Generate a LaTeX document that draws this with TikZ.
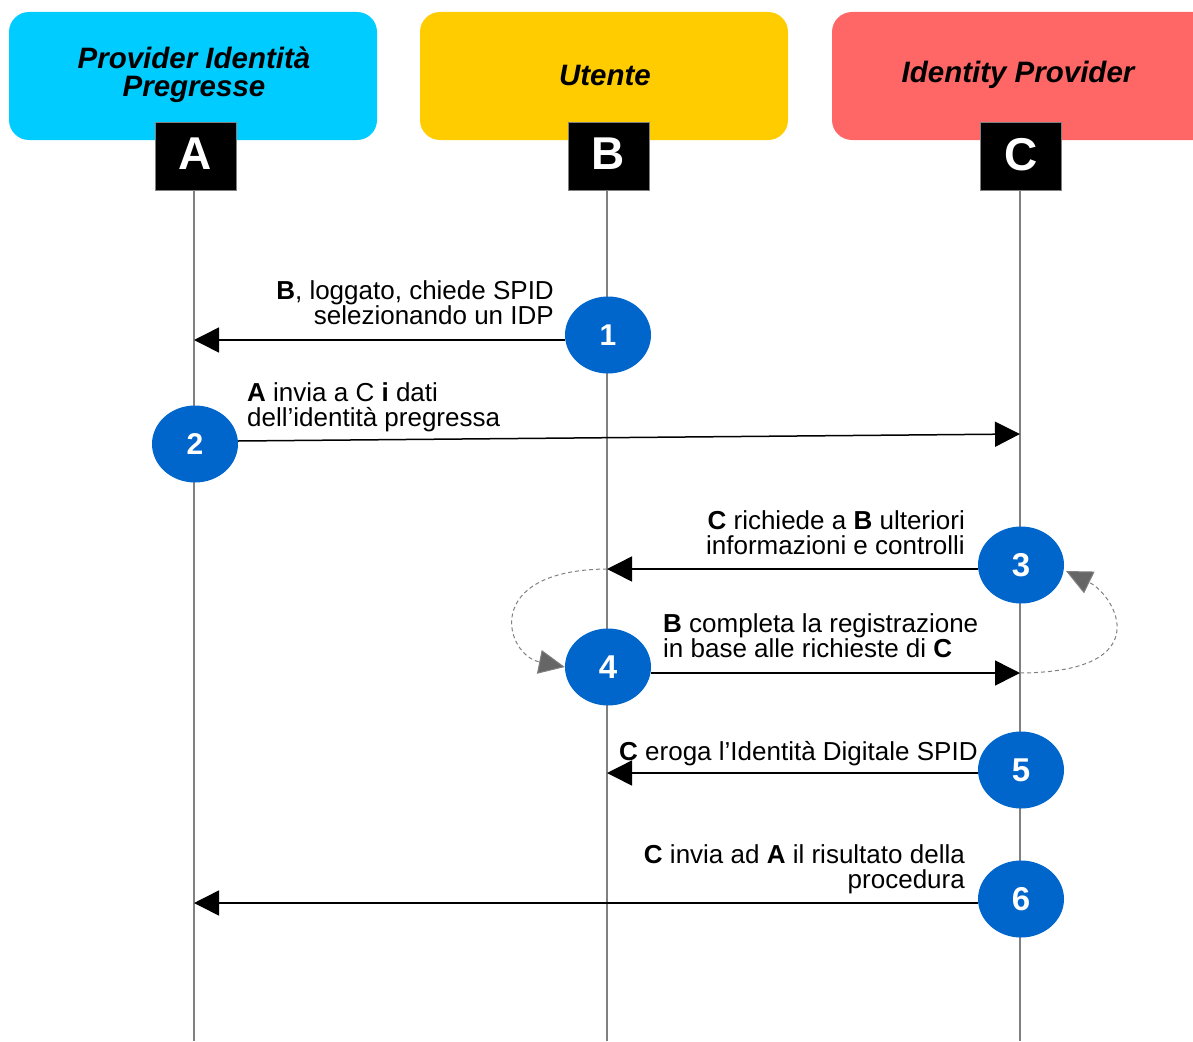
\documentclass[tikz,border=0pt]{standalone}
\usepackage{fontspec}
\setmainfont{Liberation Sans}
\usetikzlibrary{arrows.meta,shapes.geometric}
\definecolor{cA}{RGB}{0,204,255}
\definecolor{cB}{RGB}{255,204,0}
\definecolor{cC}{RGB}{255,102,102}
\definecolor{stepblue}{RGB}{0,102,204}
\definecolor{lifegray}{RGB}{128,128,128}
\definecolor{headgray}{RGB}{102,102,102}
\tikzset{
  header/.style={fill=#1, draw=none, rounded corners=20pt},
  htext/.style={font=\fontsize{29.5}{28}\selectfont\bfseries\itshape, align=center, inner sep=0pt},
  letterbox/.style={fill=black, draw=lifegray, line width=0.8pt, minimum width=81pt, minimum height=68pt, inner sep=0pt, text=white, font=\fontsize{46}{46}\selectfont\bfseries},
  lifeline/.style={draw=lifegray, line width=1.3pt},
  stepnum/.style={ellipse, fill=stepblue, draw=none, minimum width=86pt, minimum height=77pt, inner sep=0pt, text=white, font=\fontsize{#1}{#1}\selectfont\bfseries},
  stepnum/.default=33,
  msg/.style={draw=black, line width=1.5pt, -{Triangle[length=25pt,width=25pt]}},
  loopback/.style={draw=lifegray, line width=1pt, dash pattern=on 4pt off 3pt, -{Triangle[length=26pt,width=24pt,fill=headgray]}},
  lbl/.style={font=\fontsize{26}{24.5}\selectfont, inner sep=0pt},
}
\begin{document}
\begin{tikzpicture}[x=1pt,y=-1pt]
\useasboundingbox (0,0) rectangle (1193,1041);
\clip (0,0) rectangle (1193,1041);
% headers
\path[header=cA] (9,12) rectangle (377,140);
\path[header=cB] (420,12) rectangle (788,140);
\path[header=cC] (832,12) rectangle (1225,140);
\node[htext] (hA) at (194,75) {Provider Identità\\Pregresse};
\node[htext] (hB) at (605,75) {Utente};
\node[htext] (hC) at (1018,75) {Identity Provider};
% letter boxes
\node[letterbox] (A) at (195.5,156) {\raisebox{4pt}{A}};
\node[letterbox] (B) at (608.5,156) {\raisebox{4pt}{B}};
\node[letterbox] (C) at (1021,156) {\raisebox{4pt}{C}};
% lifelines
\coordinate (Aend) at (194,1041);
\coordinate (Bend) at (607,1041);
\coordinate (Cend) at (1020,1041);
\draw[lifeline] (194,190) -- (Aend);
\draw[lifeline] (607,190) -- (Bend);
\draw[lifeline] (1020,190) -- (Cend);
% steps
\node[stepnum=30] (s1) at (608,335) {1};
\node[stepnum=30] (s2) at (195,444) {2};
\node[stepnum] (s3) at (1021,565) {3};
\node[stepnum] (s4) at (608,667) {4};
\node[stepnum] (s5) at (1021,770) {5};
\node[stepnum] (s6) at (1021,899) {6};
% targets on lifelines
\coordinate (t1) at (194,340);
\coordinate (t2) at (1020,434);
\coordinate (t3) at (607,569);
\coordinate (t4) at (1020,673);
\coordinate (t5) at (607,773);
\coordinate (t6) at (194,903);
% messages
\draw[msg] (s1.west |- t1) -- (t1);
\draw[msg] (238,441) -- (t2);
\draw[msg] (s3.west |- t3) -- (t3);
\draw[msg] (s4.east |- t4) -- (t4);
\draw[msg] (s5.west |- t5) -- (t5);
\draw[msg] (s6.west |- t6) -- (t6);
% loopbacks
\draw[loopback] (t3) .. controls (480,570) and (505,655) .. (s4.west);
\draw[loopback] (t4) .. controls (1160,672) and (1115,595) .. (1066,571);
% labels
\node[lbl, anchor=base east, align=right] (l1) at (554,324) {\textbf{B}, loggato, chiede SPID\\selezionando un IDP};
\node[lbl, anchor=base west, align=left] (l2) at (247,426) {\textbf{A} invia a C \textbf{i} dati\\dell’identità pregressa};
\node[lbl, anchor=base east, align=right] (l3) at (965,554) {\textbf{C} richiede a \textbf{B} ulteriori\\informazioni e controlli};
\node[lbl, anchor=base west, align=left] (l4) at (663,657) {\textbf{B} completa la registrazione\\in base alle richieste di \textbf{C}};
\node[lbl, anchor=base west] (l5) at (619,760) {\textbf{C} eroga l’Identità Digitale SPID};
\node[lbl, anchor=base east, align=right] (l6) at (965,888) {\textbf{C} invia ad \textbf{A} il risultato della\\procedura};
\end{tikzpicture}
\end{document}
